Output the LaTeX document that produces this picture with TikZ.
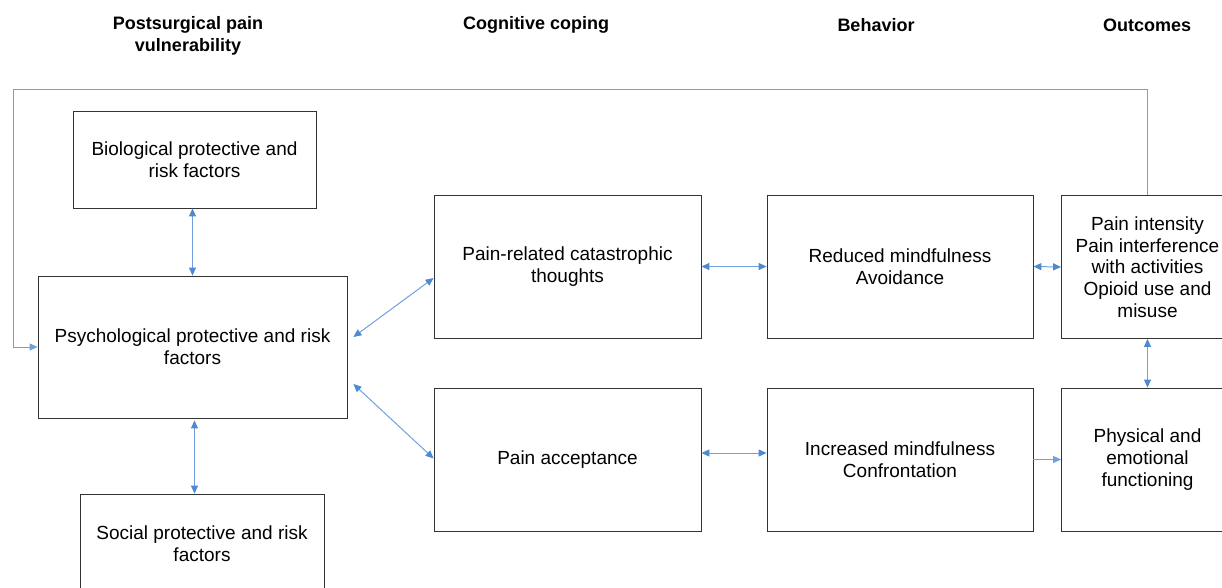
\documentclass[tikz,border=0pt]{standalone}
\usepackage{fontspec}
\setmainfont{Liberation Sans}
\usepackage{tikz}
\usetikzlibrary{arrows.meta}
\definecolor{linkblue}{RGB}{112,160,222}
\definecolor{tipblue}{RGB}{78,138,208}

\begin{document}
\begin{tikzpicture}[x=1pt,y=-1pt,
    font=\fontsize{19}{21.7}\selectfont,
    box/.style={draw=black!80,line width=0.8pt,align=center,inner sep=0pt},
    head/.style={font=\fontsize{18}{22}\selectfont\bfseries,align=center},
    link/.style={draw=linkblue,line width=1pt,{Triangle[length=8pt,width=7pt,color=tipblue]}-{Triangle[length=8pt,width=7pt,color=tipblue]}},
    onelink/.style={color=linkblue,line width=1pt,-{Triangle[length=8pt,width=7pt]}}]
  \useasboundingbox (0,0) rectangle (1222,587);
  % column headings
  \node[head] (hvuln) at (188,36) {Postsurgical pain\\vulnerability};
  \node[head] (hcope) at (536,25) {Cognitive coping};
  \node[head] (hbeh) at (876,25) {Behavior};
  \node[head] (hout) at (1147,25) {Outcomes};
  % vulnerability column
  \node[box,minimum width=243pt,minimum height=97pt] (bio) at (194.5,159.5)
    {Biological protective and\\risk factors};
  \node[box,minimum width=309pt,minimum height=142pt] (psych) at (192.5,347)
    {Psychological protective and risk\\factors};
  \node[box,minimum width=244pt,minimum height=100pt] (social) at (202,544)
    {Social protective and risk\\factors};
  % coping and behaviour
  \node[box,minimum width=267pt,minimum height=143pt] (catas) at (567.5,266.5)
    {Pain-related catastrophic\\thoughts};
  \node[box,minimum width=267pt,minimum height=143pt] (accept) at (567.5,459.5)
    {Pain acceptance};
  \node[box,minimum width=266pt,minimum height=143pt] (reduced) at (900,266.5)
    {Reduced mindfulness\\Avoidance};
  \node[box,minimum width=266pt,minimum height=143pt] (increased) at (900,459.5)
    {Increased mindfulness\\Confrontation};
  % outcomes
  \node[box,minimum width=172pt,minimum height=143pt] (outcome) at (1147.5,267)
    {Pain intensity\\Pain interference\\with activities\\Opioid use and\\misuse};
  \node[box,minimum width=172pt,minimum height=143pt] (physical) at (1147.5,459.5)
    {Physical and\\emotional\\functioning};
  % connectors
  \draw[link] (psych.north) -- (psych.north |- bio.south);
  \draw[link] ([xshift=2pt,yshift=-2pt]psych.south) -- ([xshift=2pt]psych.south |- social.north);
  \draw[link] ([xshift=6pt,yshift=10pt]psych.east) -- ([yshift=-11.5pt]catas.west);
  \draw[link] ([xshift=6pt,yshift=-37pt]psych.east) -- ([yshift=1pt]accept.west);
  \draw[link] (catas.east) -- (reduced.west);
  \draw[link] ([yshift=6.5pt]accept.east) -- ([yshift=6.5pt]increased.west);
  \draw[link] (reduced.east) -- (outcome.west);
  \draw[link] (outcome.south) -- (physical.north);
  \draw[onelink] (increased.east) -- (physical.west);
  % feedback loop back to vulnerability
  \coordinate (loopL) at (13.5,89.5);
  \draw[onelink] (outcome.north) |- (loopL) |- (psych.west);
\end{tikzpicture}
\end{document}
